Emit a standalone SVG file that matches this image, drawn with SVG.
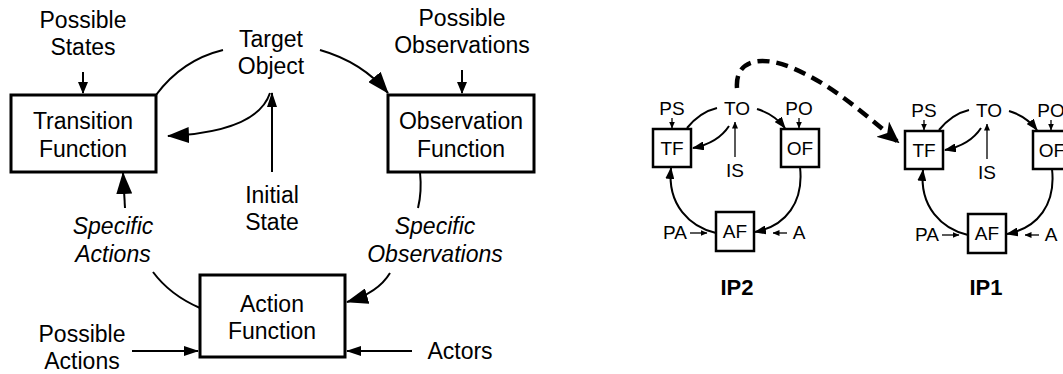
<svg xmlns="http://www.w3.org/2000/svg" width="1063" height="374" viewBox="0 0 1063 374">
<style>
text{font-family:"Liberation Sans",Arial,Helvetica,sans-serif;fill:#000}
.l{font-size:23px;text-anchor:middle}
.i{font-style:italic}
.s{font-size:19px;text-anchor:middle}
.b{font-size:22px;font-weight:bold;text-anchor:middle}
.box{fill:#fff;stroke:#000;stroke-width:3}
.sbox{fill:#fff;stroke:#000;stroke-width:2.5}
.c{fill:none;stroke:#000;stroke-width:2}
.t{fill:none;stroke:#000;stroke-width:1.3}
.d{fill:none;stroke:#000;stroke-width:4.5;stroke-dasharray:12 7}
</style>
<defs>
<marker id="big" markerUnits="userSpaceOnUse" viewBox="0 0 22 16" markerWidth="22" markerHeight="16" refX="21" refY="8" orient="auto"><path d="M0,0 L22,8 L0,16 z"/></marker>
<marker id="med" markerUnits="userSpaceOnUse" viewBox="0 0 15 10" markerWidth="15" markerHeight="10" refX="14" refY="5" orient="auto"><path d="M0,0 L15,5 L0,10 z"/></marker>
<marker id="sm" markerUnits="userSpaceOnUse" viewBox="0 0 12 10" markerWidth="12" markerHeight="10" refX="11" refY="5" orient="auto"><path d="M0,0 L12,5 L0,10 z"/></marker>
<marker id="ip" markerUnits="userSpaceOnUse" viewBox="0 0 12 9" markerWidth="12" markerHeight="9" refX="11" refY="4.5" orient="auto"><path d="M0,0 L12,4.5 L0,9 z"/></marker>
<marker id="tiny" markerUnits="userSpaceOnUse" viewBox="0 0 7 6" markerWidth="7" markerHeight="6" refX="6.5" refY="3" orient="auto"><path d="M0,0 L7,3 L0,6 z"/></marker>
<marker id="dash" markerUnits="userSpaceOnUse" viewBox="0 0 22 20" markerWidth="22" markerHeight="20" refX="20" refY="10" orient="auto"><path d="M0,0 L22,10 L0,20 L6,10 z"/></marker>
</defs>
<rect width="1063" height="374" fill="#fff"/>

<g id="connectors">
<path class="c" d="M83,72 L83,93" marker-end="url(#sm)"/>
<path class="c" d="M156,95 Q182,60 223,50"/>
<path class="c" d="M270,93 C262,117 232,133 168,136" marker-end="url(#big)"/>
<path class="c" d="M272,172 L272,93" marker-end="url(#med)"/>
<path class="c" d="M320,50 Q362,62 388,93" marker-end="url(#big)"/>
<path class="c" d="M462,70 L462,93" marker-end="url(#sm)"/>
<path class="c" d="M420,172 Q422,192 418,208"/>
<path class="c" d="M390,273 Q378,293 347,302" marker-end="url(#big)"/>
<path class="c" d="M200,308 Q170,295 153,272"/>
<path class="c" d="M125,208 L123,173" marker-end="url(#big)"/>
<path class="c" d="M132,351 L198,351" marker-end="url(#med)"/>
<path class="c" d="M412,351 L347,351" marker-end="url(#med)"/>
<path class="d" d="M737,88 C735,60 760,55 790,67 C830,83 862,112 898,142" marker-end="url(#dash)"/>
</g>

<g id="possible-states"><text class="l" x="83" y="28">Possible</text><text class="l" x="83" y="55">States</text></g>
<g id="transition-function"><rect class="box" x="11" y="95" width="145" height="77"/><text class="l" x="83" y="129">Transition</text><text class="l" x="83" y="157">Function</text></g>
<g id="target-object"><text class="l" x="271" y="47">Target</text><text class="l" x="271" y="74">Object</text></g>
<g id="possible-observations"><text class="l" x="462" y="26">Possible</text><text class="l" x="462" y="53">Observations</text></g>
<g id="observation-function"><rect class="box" x="388" y="95" width="146" height="77"/><text class="l" x="461" y="129">Observation</text><text class="l" x="461" y="157">Function</text></g>
<g id="initial-state"><text class="l" x="272" y="203">Initial</text><text class="l" x="272" y="230">State</text></g>
<g id="specific-actions"><text class="l i" x="113" y="234">Specific</text><text class="l i" x="113" y="262">Actions</text></g>
<g id="specific-observations"><text class="l i" x="435" y="234">Specific</text><text class="l i" x="435" y="262">Observations</text></g>
<g id="action-function"><rect class="box" x="200" y="275" width="145" height="82"/><text class="l" x="272" y="312">Action</text><text class="l" x="272" y="339">Function</text></g>
<g id="possible-actions"><text class="l" x="82" y="342">Possible</text><text class="l" x="82" y="369">Actions</text></g>
<g id="actors"><text class="l" x="460" y="359">Actors</text></g>

<g id="ip2-connectors">
<path class="t" d="M672,118 L672,128" marker-end="url(#tiny)"/>
<path class="c" d="M687,128 Q700,112 717,108"/>
<path class="c" d="M729,126 Q718,143 693,148" marker-end="url(#ip)"/>
<path class="t" d="M735,157 L735,122" marker-end="url(#tiny)"/>
<path class="c" d="M757,109 Q774,114 785,128" marker-end="url(#ip)"/>
<path class="t" d="M799,118 L799,128" marker-end="url(#tiny)"/>
<path class="c" d="M800,167 C804,202 786,226 755,232" marker-end="url(#ip)"/>
<path class="c" d="M716,233 C690,227 667,205 671,168" marker-end="url(#ip)"/>
<path class="t" d="M690,233 L707,233" marker-end="url(#tiny)"/>
<path class="t" d="M787,233 L773,233" marker-end="url(#tiny)"/>
</g>
<g id="ip2-ps"><text class="s" x="672" y="115">PS</text></g>
<g id="ip2-tf"><rect class="sbox" x="653" y="129" width="38" height="38"/><text class="s" x="672" y="155">TF</text></g>
<g id="ip2-to"><text class="s" x="737" y="115">TO</text></g>
<g id="ip2-is"><text class="s" x="735" y="177">IS</text></g>
<g id="ip2-po"><text class="s" x="799" y="115">PO</text></g>
<g id="ip2-of"><rect class="sbox" x="781" y="129" width="38" height="38"/><text class="s" x="800" y="155">OF</text></g>
<g id="ip2-af"><rect class="sbox" x="716" y="212" width="38" height="39"/><text class="s" x="735" y="238">AF</text></g>
<g id="ip2-pa"><text class="s" x="675" y="239">PA</text></g>
<g id="ip2-a"><text class="s" x="799" y="239">A</text></g>
<g id="ip2-label"><text class="b" x="737" y="295">IP2</text></g>

<g id="ip1-connectors" transform="translate(252,2)">
<path class="t" d="M672,118 L672,128" marker-end="url(#tiny)"/>
<path class="c" d="M687,128 Q700,112 717,108"/>
<path class="c" d="M729,126 Q718,143 693,148" marker-end="url(#ip)"/>
<path class="t" d="M735,157 L735,122" marker-end="url(#tiny)"/>
<path class="c" d="M757,109 Q774,114 785,128" marker-end="url(#ip)"/>
<path class="t" d="M799,118 L799,128" marker-end="url(#tiny)"/>
<path class="c" d="M800,167 C804,202 786,226 755,232" marker-end="url(#ip)"/>
<path class="c" d="M716,233 C690,227 667,205 671,168" marker-end="url(#ip)"/>
<path class="t" d="M690,233 L707,233" marker-end="url(#tiny)"/>
<path class="t" d="M787,233 L773,233" marker-end="url(#tiny)"/>
</g>
<g transform="translate(252,2)">
<g id="ip1-ps"><text class="s" x="672" y="115">PS</text></g>
<g id="ip1-tf"><rect class="sbox" x="653" y="129" width="38" height="38"/><text class="s" x="672" y="155">TF</text></g>
<g id="ip1-to"><text class="s" x="737" y="115">TO</text></g>
<g id="ip1-is"><text class="s" x="735" y="177">IS</text></g>
<g id="ip1-po"><text class="s" x="799" y="115">PO</text></g>
<g id="ip1-of"><rect class="sbox" x="781" y="129" width="38" height="38"/><text class="s" x="800" y="155">OF</text></g>
<g id="ip1-af"><rect class="sbox" x="716" y="212" width="38" height="39"/><text class="s" x="735" y="238">AF</text></g>
<g id="ip1-pa"><text class="s" x="675" y="239">PA</text></g>
<g id="ip1-a"><text class="s" x="799" y="239">A</text></g>
</g>
<g id="ip1-label"><text class="b" x="986" y="295">IP1</text></g>
</svg>
